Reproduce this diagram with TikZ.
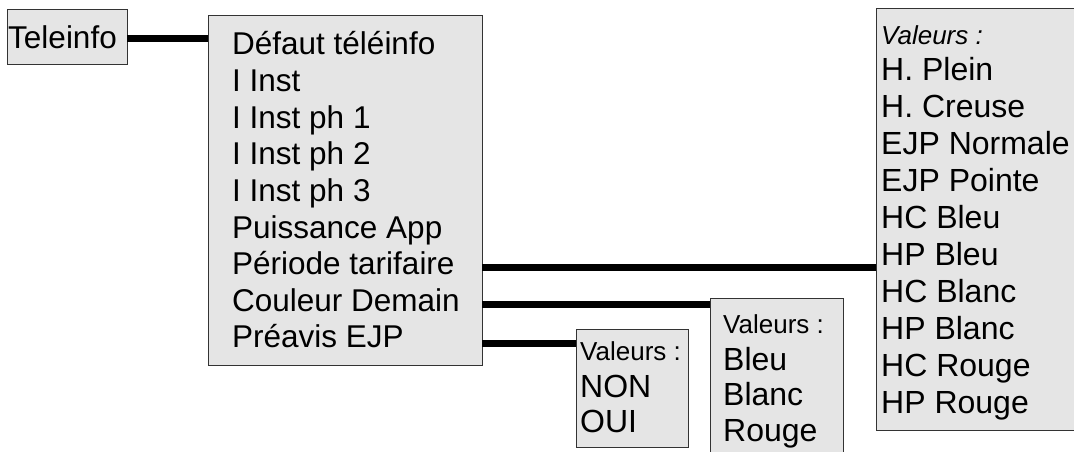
\documentclass[tikz,border=0pt]{standalone}
\usepackage{fontspec}
\setmainfont{Liberation Sans}
\begin{document}
\begin{tikzpicture}[x=1pt,y=-1pt,
  box/.style={draw=black!80,line width=0.9pt,fill=black!10,inner sep=0pt,anchor=north west},
  txt/.style={anchor=base west,inner sep=0pt,text=black,font=\fontsize{31.5}{36}\selectfont},
  big/.style={anchor=base west,inner sep=0pt,text=black,font=\fontsize{32}{37}\selectfont},
  valhead/.style={anchor=base west,inner sep=0pt,text=black,font=\fontsize{26}{30}\selectfont},
  link/.style={line width=7pt,black}]
\useasboundingbox (0,0) rectangle (1074,452);

% boxes
\node[box,minimum width=120pt,minimum height=55pt] (tele) at (7,9) {};
\node[box,minimum width=274pt,minimum height=350pt] (menu) at (208,15) {};
\node[box,minimum width=210pt,minimum height=422pt] (tarif) at (876,8) {};
\node[box,minimum width=133pt,minimum height=170pt] (coul) at (710,298) {};
\node[box,minimum width=112pt,minimum height=118pt] (ejp) at (576,329) {};

% connectors
\coordinate (c0) at (127,39);
\coordinate (c1) at (482,267);
\coordinate (c2) at (482,304);
\coordinate (c3) at (482,343);
\draw[link] (c0) -- (c0 -| menu.west);
\draw[link] (c1) -- (c1 -| tarif.west);
\draw[link] (c2) -- (c2 -| coul.west);
\draw[link] (c3) -- (c3 -| ejp.west);

% texts
\node[txt] (tt) at (8,48.5) {Teleinfo};
\foreach \t [count=\i] in {Défaut téléinfo,I Inst,I Inst ph 1,I Inst ph 2,I Inst ph 3,Puissance App,Période tarifaire,Couleur Demain,Préavis EJP}
  \node[txt] (m\i) at (232,{55+36.6*(\i-1)}) {\t};

\node[valhead,font=\fontsize{26}{30}\selectfont\itshape] (tv) at (881,45) {Valeurs :};
\foreach \t [count=\i] in {H. Plein,H. Creuse,EJP Normale,EJP Pointe,HC Bleu,HP Bleu,HC Blanc,HP Blanc,HC Rouge,HP Rouge}
  \node[big] (r\i) at (881,{80.3+37*(\i-1)}) {\t};

\node[valhead] (cv) at (723,333) {Valeurs :};
\foreach \t [count=\i] in {Bleu,Blanc,Rouge}
  \node[big] (b\i) at (723,{370+35.5*(\i-1)}) {\t};

\node[valhead] (ev) at (580,360) {Valeurs :};
\foreach \t [count=\i] in {NON,OUI}
  \node[big] (e\i) at (580,{397+35.5*(\i-1)}) {\t};
\end{tikzpicture}
\end{document}
